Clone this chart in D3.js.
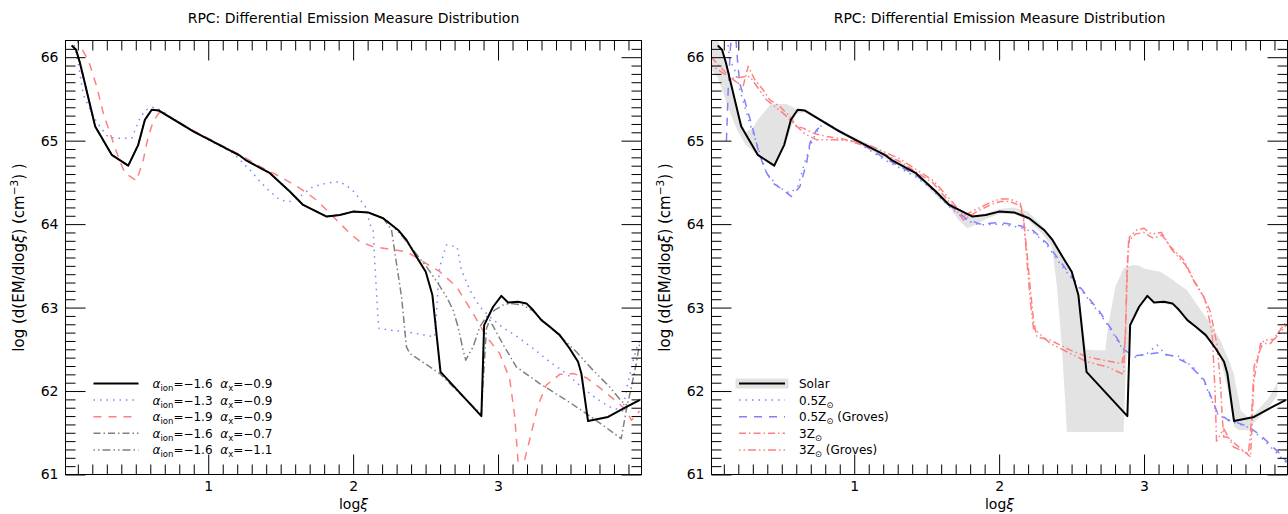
<!DOCTYPE html>
<html>
<head>
<meta charset="utf-8">
<script src="https://cdn.jsdelivr.net/npm/d3@7"></script>
<style>
  body { margin: 0; background: #fff; }
  text { font-family: "DejaVu Sans", sans-serif; }
</style>
</head>
<body>
<div id="chart"></div>
<script>
// ---- data ----
var solarX = [0.058,0.088,0.115,0.22,0.334,0.448,0.517,0.563,0.61,0.66,0.897,1.219,1.265,1.426,1.563,1.655,1.724,1.817,1.908,2.0,2.103,2.207,2.31,2.368,2.437,2.501,2.547,2.603,2.885,2.904,2.966,3.023,3.069,3.138,3.196,3.242,3.299,3.357,3.426,3.494,3.552,3.575,3.621,3.759,3.886,3.977];
var solarY = [66.14,66.09,65.93,65.17,64.83,64.70,64.95,65.25,65.37,65.36,65.11,64.82,64.76,64.61,64.39,64.23,64.17,64.09,64.11,64.15,64.14,64.07,63.93,63.81,63.61,63.43,63.15,62.23,61.70,62.79,63.01,63.14,63.06,63.07,63.05,62.97,62.85,62.77,62.67,62.51,62.35,62.21,61.64,61.69,61.81,61.89];

var ion13X = [0.06,0.069,0.103,0.138,0.207,0.253,0.31,0.379,0.472,0.529,0.57,0.616,0.667,0.897,1.172,1.23,1.299,1.357,1.414,1.494,1.563,1.632,1.724,1.817,1.908,1.943,1.989,2.023,2.058,2.092,2.115,2.138,2.15,2.172,2.179,2.253,2.368,2.529,2.563,2.575,2.586,2.598,2.644,2.717,2.747,2.805,2.874,2.943,3.034,3.126,3.242,3.357,3.471,3.563,3.678,3.77,3.86,3.89,3.93,3.966,3.99];
var ion13Y = [66.3,66.19,65.93,65.55,65.29,65.17,65.04,65.03,65.03,65.27,65.37,65.40,65.37,65.11,64.85,64.75,64.63,64.51,64.41,64.29,64.27,64.33,64.45,64.49,64.51,64.47,64.42,64.35,64.27,64.19,64.0,63.93,63.53,62.85,62.75,62.73,62.71,62.66,62.65,62.93,63.25,63.49,63.75,63.73,63.45,63.21,63.01,62.89,62.76,62.66,62.51,62.35,62.21,62.07,61.91,61.81,61.76,62.05,62.35,62.57,62.62];

var ion19X = [0.09,0.103,0.172,0.23,0.276,0.322,0.391,0.426,0.506,0.552,0.586,0.621,0.667,0.897,1.219,1.357,1.494,1.632,1.747,1.839,1.908,1.977,2.046,2.138,2.253,2.368,2.483,2.598,2.713,2.828,2.92,3.011,3.08,3.115,3.138,3.184,3.23,3.276,3.333,3.426,3.517,3.609,3.701,3.793,3.885,3.92,3.977];
var ion19Y = [66.25,66.17,65.97,65.65,65.33,65.09,64.75,64.61,64.52,64.77,65.05,65.23,65.35,65.12,64.83,64.69,64.57,64.43,64.29,64.13,64.01,63.89,63.79,63.73,63.70,63.67,63.55,63.43,63.25,62.93,62.65,62.45,62.15,61.70,61.15,61.18,61.50,61.83,62.07,62.20,62.21,62.16,62.04,61.91,61.77,61.65,61.76];

var ax07X = [0.058,0.088,0.115,0.22,0.334,0.448,0.517,0.563,0.61,0.66,0.897,1.219,1.265,1.426,1.563,1.655,1.724,1.817,1.908,2.0,2.103,2.207,2.265,2.299,2.334,2.368,2.391,2.46,2.598,2.713,2.885,2.897,2.92,2.943,3.034,3.126,3.287,3.471,3.609,3.724,3.85,3.885,3.92,3.954,3.977];
var ax07Y = [66.14,66.09,65.93,65.17,64.83,64.70,64.95,65.25,65.37,65.36,65.11,64.82,64.76,64.61,64.39,64.23,64.17,64.09,64.11,64.15,64.14,64.07,63.93,63.53,63.13,62.53,62.45,62.37,62.21,62.01,61.72,62.10,62.75,62.85,62.56,62.29,62.09,61.89,61.73,61.59,61.43,61.77,62.05,62.33,62.57];

var ax11X = [0.058,0.088,0.115,0.22,0.334,0.448,0.517,0.563,0.61,0.66,0.897,1.219,1.265,1.426,1.563,1.655,1.724,1.817,1.908,2.0,2.103,2.207,2.23,2.322,2.414,2.506,2.586,2.644,2.69,2.724,2.759,2.777,2.828,2.874,2.92,2.977,3.034,3.08,3.172,3.242,3.299,3.402,3.54,3.655,3.77,3.85,3.9,3.977];
var ax11Y = [66.14,66.09,65.93,65.17,64.83,64.70,64.95,65.25,65.37,65.36,65.11,64.82,64.76,64.61,64.39,64.23,64.17,64.09,64.11,64.15,64.14,64.07,64.05,63.89,63.69,63.49,63.29,63.13,62.97,62.77,62.49,62.37,62.53,62.77,62.89,62.97,63.03,63.05,63.03,62.96,62.86,62.70,62.47,62.25,62.05,61.88,61.82,61.90];

var halfZX = [0.12,0.14,0.175,0.22,0.28,0.33,0.395,0.475,0.556,0.61,0.66,0.71,0.763,0.81,0.97,1.2,1.431,1.546,1.661,1.777,1.869,2.007,2.145,2.237,2.33,2.422,2.514,2.606,2.698,2.79,2.859,2.928,3.021,3.09,3.159,3.228,3.343,3.412,3.458,3.504,3.574,3.712,3.804,3.919,3.988];
var halfZY = [66.3,65.97,65.85,65.55,65.2,64.95,64.61,64.45,64.37,64.45,64.75,65.0,65.17,65.21,65.04,64.78,64.56,64.40,64.20,64.04,63.99,64.0,63.96,63.90,63.75,63.52,63.32,63.12,62.92,62.68,62.48,62.40,62.45,62.55,62.42,62.43,62.28,62.12,61.93,61.73,61.65,61.57,61.45,61.25,61.13];

var halfGrX = [0.118,0.13,0.145,0.155,0.18,0.195,0.21,0.256,0.302,0.337,0.383,0.44,0.509,0.567,0.625,0.671,0.694,0.74,0.798,0.97,1.2,1.431,1.546,1.661,1.777,1.869,2.007,2.145,2.237,2.33,2.422,2.514,2.606,2.698,2.79,2.859,2.928,3.021,3.1,3.2,3.3,3.412,3.458,3.504,3.574,3.712,3.804,3.919,3.988];
var halfGrY = [65.0,65.6,66.1,66.3,66.3,65.95,65.69,65.41,65.13,64.89,64.65,64.49,64.41,64.33,64.45,64.73,64.97,65.13,65.21,65.05,64.80,64.58,64.42,64.22,64.06,64.0,64.02,63.98,63.92,63.77,63.55,63.34,63.14,62.94,62.70,62.50,62.42,62.44,62.46,62.42,62.33,62.14,61.95,61.75,61.66,61.58,61.47,61.28,61.15];

var triZX = [0.015,0.07,0.164,0.233,0.268,0.314,0.371,0.417,0.486,0.556,0.602,0.648,0.717,0.809,0.924,1.086,1.316,1.546,1.684,1.754,1.846,1.938,2.007,2.076,2.145,2.168,2.19,2.214,2.237,2.26,2.353,2.491,2.606,2.721,2.848,2.871,2.882,2.894,2.94,2.997,3.066,3.124,3.182,3.274,3.343,3.412,3.458,3.504,3.527,3.539,3.55,3.574,3.735,3.745,3.758,3.804,3.873,3.988];
var triZY = [66.0,65.89,65.73,65.65,65.89,65.73,65.61,65.49,65.41,65.29,65.17,65.15,65.09,65.05,65.02,64.93,64.75,64.49,64.21,64.05,64.15,64.23,64.27,64.27,64.22,64.05,63.70,63.25,62.85,62.65,62.61,62.49,62.41,62.37,62.33,62.60,63.45,63.80,63.88,63.90,63.83,63.87,63.73,63.57,63.33,63.13,62.95,62.55,62.10,61.70,61.45,61.45,61.21,61.60,62.13,62.57,62.57,62.85];

var triGrX = [0.015,0.095,0.164,0.279,0.394,0.509,0.579,0.66,0.74,0.855,0.97,1.1,1.316,1.546,1.684,1.754,1.846,1.938,2.007,2.076,2.145,2.168,2.19,2.214,2.237,2.353,2.491,2.606,2.744,2.859,2.875,2.888,2.9,2.95,3.0,3.05,3.12,3.19,3.29,3.35,3.42,3.47,3.49,3.5,3.55,3.618,3.72,3.735,3.76,3.827,3.9,3.988];
var triGrY = [65.90,65.81,65.75,65.77,65.49,65.33,65.21,65.08,65.01,65.01,65.0,64.95,64.78,64.52,64.25,64.10,64.18,64.26,64.30,64.30,64.25,64.10,63.60,63.10,62.75,62.57,62.45,62.35,62.29,62.20,62.90,63.60,63.85,63.93,63.95,63.88,63.90,63.70,63.50,63.30,63.10,62.70,62.0,61.40,61.55,61.33,61.25,61.50,62.30,62.61,62.62,62.80];

// grey range behind the solar curve
var bandX  = [0.015,0.06,0.1,0.15,0.2,0.25,0.3,0.334,0.42,0.448,0.533,0.6,0.66,0.9,1.2,1.43,1.6,1.66,1.72,1.78,1.85,1.91,2.0,2.1,2.2,2.3,2.364,2.399,2.433,2.468,2.5,2.547,2.6,2.64,2.732,2.755,2.802,2.859,2.875,2.904,2.928,2.966,2.997,3.023,3.113,3.2,3.228,3.297,3.366,3.458,3.527,3.585,3.621,3.631,3.654,3.666,3.735,3.758,3.861,3.92];
var bandLo = [65.85,65.75,65.55,65.3,65.1,64.95,64.88,64.83,64.71,64.70,65.0,65.33,65.34,65.09,64.8,64.57,64.28,64.2,64.05,63.95,64.0,64.06,64.12,64.12,64.05,63.88,63.73,63.25,62.53,61.51,61.51,61.51,61.51,61.51,61.51,61.51,61.51,61.51,62.3,62.77,62.9,63.0,63.08,63.12,63.05,63.03,63.0,62.85,62.75,62.6,62.4,61.95,61.58,61.56,61.53,61.53,61.53,61.62,61.8,61.95];
var bandHi = [66.25,66.2,66.0,65.7,65.33,65.1,65.15,65.25,65.43,65.44,65.44,65.38,65.37,65.13,64.87,64.62,64.36,64.26,64.19,64.12,64.11,64.13,64.18,64.2,64.15,63.97,63.85,63.75,63.62,63.5,63.43,63.15,62.5,62.49,62.49,62.81,63.25,63.47,63.48,63.5,63.51,63.5,63.47,63.46,63.43,63.33,63.29,63.21,63.03,62.81,62.61,62.37,62.2,62.09,61.9,61.77,61.66,61.72,61.92,62.1];

var xMajor = [1, 2, 3];
var yMajor = [61, 62, 63, 64, 65, 66];
var titleText = "RPC: Differential Emission Measure Distribution";

// ---- layout ----
var width = 1288, height = 514;
var pw = 576, ph = 434;
var xDomain = [0.015, 3.99], yDomain = [61, 66.2];

var blue = "#8080ff", red = "#ff8080", grey = "#808080";
var DOT = "1.5,5", DASH = "8,7", DASHDOT = "7,3,1.5,3", DASHDOTDOT = "1.5,3,1.5,3,8,3";

var svg = d3.select("#chart")
  .append("svg")
  .attr("width", width)
  .attr("height", height);

function drawPanel(id, left, top, series, legendRows, band) {
  var x = d3.scaleLinear().domain(xDomain).range([0, pw]);
  var y = d3.scaleLinear().domain(yDomain).range([ph, 0]);

  var g = svg.append("g").attr("transform", "translate(" + left + "," + top + ")");

  g.append("clipPath").attr("id", "clip" + id)
    .append("rect").attr("width", pw).attr("height", ph);

  var plot = g.append("g").attr("clip-path", "url(#clip" + id + ")");

  if (band) {
    var area = d3.area()
      .x(d => x(d[0]))
      .y0(d => y(d[1]))
      .y1(d => y(d[2]));
    plot.append("path")
      .datum(d3.zip(bandX, bandLo, bandHi))
      .attr("d", area)
      .attr("fill", "#e3e3e3");
  }

  var line = d3.line().x(d => x(d[0])).y(d => y(d[1]));

  series.forEach(function(s) {
    plot.append("path")
      .datum(d3.zip(s.xs, s.ys))
      .attr("d", line)
      .attr("fill", "none")
      .attr("stroke", s.color)
      .attr("stroke-width", s.width)
      .attr("stroke-dasharray", s.dash || null)
      .attr("stroke-linejoin", "round");
  });

  // ticks, all pointing inwards
  var xMinor = d3.range(1, 40).map(d => d / 10).filter(d => d % 1 !== 0);
  var yMinor = d3.range(611, 662).map(d => d / 10).filter(d => Math.abs(d - Math.round(d)) > 0.01);

  g.append("g").attr("transform", "translate(0," + ph + ")")
    .call(d3.axisBottom(x).tickValues(xMinor).tickSize(-10).tickFormat(""));
  g.append("g").attr("transform", "translate(0," + ph + ")")
    .call(d3.axisBottom(x).tickValues(xMajor).tickSizeInner(-20).tickSizeOuter(0).tickPadding(7).tickFormat(d3.format("d")));
  g.append("g")
    .call(d3.axisTop(x).tickValues(xMinor).tickSize(-10).tickFormat(""));
  g.append("g")
    .call(d3.axisTop(x).tickValues(xMajor).tickSize(-20).tickFormat(""));
  g.append("g")
    .call(d3.axisLeft(y).tickValues(yMinor).tickSize(-10).tickFormat(""));
  g.append("g")
    .call(d3.axisLeft(y).tickValues(yMajor).tickSizeInner(-20).tickSizeOuter(0).tickPadding(7).tickFormat(d3.format("d")));
  g.append("g").attr("transform", "translate(" + pw + ",0)")
    .call(d3.axisRight(y).tickValues(yMinor).tickSize(-10).tickFormat(""));
  g.append("g").attr("transform", "translate(" + pw + ",0)")
    .call(d3.axisRight(y).tickValues(yMajor).tickSize(-20).tickFormat(""));

  g.selectAll(".domain").remove();
  g.selectAll(".tick line").attr("stroke", "#000").attr("stroke-width", 1);
  g.selectAll(".tick text")
    .attr("fill", "#000")
    .style("font-family", "DejaVu Sans")
    .style("font-size", "14px");

  g.append("rect")
    .attr("width", pw).attr("height", ph)
    .attr("fill", "none").attr("stroke", "#000").attr("stroke-width", 1);

  // title and axis labels
  g.append("text")
    .attr("x", pw / 2).attr("y", -18)
    .attr("text-anchor", "middle")
    .style("font-size", "14px")
    .text(titleText);

  var xl = g.append("text")
    .attr("x", pw / 2).attr("y", ph + 34)
    .attr("text-anchor", "middle")
    .style("font-size", "14px");
  xl.append("tspan").text("log");
  xl.append("tspan").style("font-style", "italic").text("ξ");

  var yl = g.append("text")
    .attr("transform", "translate(-42," + ph / 2 + ") rotate(-90)")
    .attr("text-anchor", "middle")
    .style("font-size", "15px");
  yl.append("tspan").text("log (d(EM/dlog");
  yl.append("tspan").style("font-style", "italic").text("ξ");
  yl.append("tspan").text(") (cm");
  yl.append("tspan").attr("dy", -6).style("font-size", "10.5px").text("−3");
  yl.append("tspan").attr("dy", 6).text(") )");

  // legend
  var lg = g.append("g").attr("transform", "translate(" + (legendRows.x0) + "," + legendRows.y0 + ")");
  legendRows.rows.forEach(function(r, i) {
    var row = lg.append("g").attr("transform", "translate(0," + (i * 16.6) + ")");
    if (r.patch) {
      row.append("rect")
        .attr("x", -3.5).attr("y", -5).attr("width", legendRows.len + 7).attr("height", 10)
        .attr("fill", "#e3e3e3");
    }
    row.append("line")
      .attr("x1", 0).attr("x2", legendRows.len)
      .attr("stroke", r.s.color)
      .attr("stroke-width", r.s.width)
      .attr("stroke-dasharray", r.s.dash || null);
    var t = row.append("text")
      .attr("x", legendRows.textX).attr("y", 4.5)
      .style("font-size", "12px")
      .style("white-space", "pre");
    r.parts.forEach(function(p) {
      var ts = t.append("tspan").text(p.t);
      if (p.sub) ts.attr("dy", 3).style("font-size", "8.5px");
      if (p.up) ts.attr("dy", -3);
      if (p.it) ts.style("font-style", "italic");
    });
  });
}

var sSolar = { xs: solarX, ys: solarY, color: "#000", width: 2 };
var s13 = { xs: ion13X, ys: ion13Y, color: blue, width: 1.5, dash: DOT };
var s19 = { xs: ion19X, ys: ion19Y, color: red, width: 1.5, dash: DASH };
var s07 = { xs: ax07X, ys: ax07Y, color: grey, width: 1.5, dash: DASHDOT };
var s11 = { xs: ax11X, ys: ax11Y, color: grey, width: 1.5, dash: DASHDOTDOT };

function alphaLabel(ion, ax) {
  return [
    { t: "α", it: true }, { t: "ion", sub: true }, { t: "=−" + ion + "  ", up: true },
    { t: "α", it: true }, { t: "x", sub: true }, { t: "=−" + ax, up: true }
  ];
}

drawPanel("L", 65.5, 40.5, [s13, s19, s07, s11, sSolar], {
  x0: 28, y0: 343, len: 45, textX: 59,
  rows: [
    { s: sSolar, parts: alphaLabel("1.6", "0.9") },
    { s: s13, parts: alphaLabel("1.3", "0.9") },
    { s: s19, parts: alphaLabel("1.9", "0.9") },
    { s: s07, parts: alphaLabel("1.6", "0.7") },
    { s: s11, parts: alphaLabel("1.6", "1.1") }
  ]
}, false);

var sHalf = { xs: halfZX, ys: halfZY, color: blue, width: 1.5, dash: DOT };
var sHalfGr = { xs: halfGrX, ys: halfGrY, color: blue, width: 1.5, dash: DASH };
var sTri = { xs: triZX, ys: triZY, color: red, width: 1.5, dash: DASHDOT };
var sTriGr = { xs: triGrX, ys: triGrY, color: red, width: 1.5, dash: DASHDOTDOT };

function zLabel(n, extra) {
  var p = [{ t: n + "Z" }, { t: "⊙", sub: true }];
  if (extra) p.push({ t: " " + extra, up: true });
  return p;
}

drawPanel("R", 711.5, 40.5, [sHalf, sHalfGr, sTri, sTriGr, sSolar], {
  x0: 27.5, y0: 343, len: 46, textX: 60,
  rows: [
    { s: sSolar, patch: true, parts: [{ t: "Solar" }] },
    { s: sHalf, parts: zLabel("0.5") },
    { s: sHalfGr, parts: zLabel("0.5", "(Groves)") },
    { s: sTri, parts: zLabel("3") },
    { s: sTriGr, parts: zLabel("3", "(Groves)") }
  ]
}, true);
</script>
</body>
</html>
